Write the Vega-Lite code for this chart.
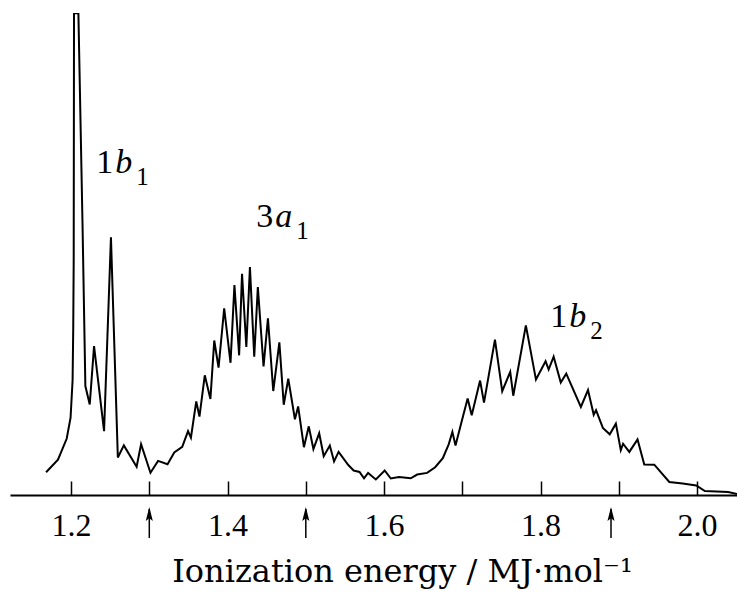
{
  "$schema": "https://vega.github.io/schema/vega-lite/v6.json",
  "width": 727,
  "height": 482,
  "autosize": {"type": "none"},
  "padding": {"left": 10, "right": 0, "top": 13, "bottom": 114},
  "background": "white",
  "config": {"view": {"stroke": null}, "font": "Liberation Serif"},
  "datasets": {
    "spectrum": [
      {"E": 1.1681, "I": 22.2}, {"E": 1.1833, "I": 34.6}, {"E": 1.1945, "I": 55.2}, {"E": 1.1994, "I": 75.5},
      {"E": 1.2020, "I": 112.4}, {"E": 1.2028, "I": 162.7}, {"E": 1.2034, "I": 229.6}, {"E": 1.2038, "I": 470.8},
      {"E": 1.2094, "I": 470.8}, {"E": 1.2147, "I": 263.6}, {"E": 1.2183, "I": 106.5}, {"E": 1.2239, "I": 88.4},
      {"E": 1.2294, "I": 145.5}, {"E": 1.2422, "I": 62.4}, {"E": 1.2510, "I": 251.9}, {"E": 1.2598, "I": 36.6},
      {"E": 1.2675, "I": 48.5}, {"E": 1.2838, "I": 27.7}, {"E": 1.2895, "I": 49.6}, {"E": 1.3015, "I": 21.8},
      {"E": 1.3112, "I": 33.3}, {"E": 1.3233, "I": 30.1}, {"E": 1.3319, "I": 41.6}, {"E": 1.3421, "I": 47.0},
      {"E": 1.3495, "I": 62.4}, {"E": 1.3532, "I": 56.0}, {"E": 1.3600, "I": 91.4}, {"E": 1.3641, "I": 76.6},
      {"E": 1.3709, "I": 117.0}, {"E": 1.3781, "I": 93.9}, {"E": 1.3830, "I": 151.0}, {"E": 1.3885, "I": 124.5},
      {"E": 1.3957, "I": 182.4}, {"E": 1.4038, "I": 129.2}, {"E": 1.4088, "I": 205.1}, {"E": 1.4148, "I": 136.5},
      {"E": 1.4185, "I": 216.2}, {"E": 1.4240, "I": 144.6}, {"E": 1.4286, "I": 222.7}, {"E": 1.4341, "I": 135.1},
      {"E": 1.4387, "I": 203.1}, {"E": 1.4460, "I": 125.6}, {"E": 1.4516, "I": 172.6}, {"E": 1.4584, "I": 101.6},
      {"E": 1.4662, "I": 149.2}, {"E": 1.4718, "I": 88.2}, {"E": 1.4776, "I": 113.6}, {"E": 1.4861, "I": 73.9},
      {"E": 1.4902, "I": 86.5}, {"E": 1.4976, "I": 46.7}, {"E": 1.5038, "I": 67.1}, {"E": 1.5097, "I": 44.9},
      {"E": 1.5171, "I": 60.3}, {"E": 1.5229, "I": 37.9}, {"E": 1.5307, "I": 48.3}, {"E": 1.5361, "I": 32.8},
      {"E": 1.5419, "I": 42.1}, {"E": 1.5543, "I": 29.3}, {"E": 1.5611, "I": 23.9}, {"E": 1.5686, "I": 22.5},
      {"E": 1.5744, "I": 16.2}, {"E": 1.5796, "I": 21.5}, {"E": 1.5895, "I": 15.2}, {"E": 1.6008, "I": 24.0},
      {"E": 1.6086, "I": 16.1}, {"E": 1.6190, "I": 17.6}, {"E": 1.6341, "I": 16.3}, {"E": 1.6423, "I": 20.0},
      {"E": 1.6550, "I": 21.6}, {"E": 1.6653, "I": 27.1}, {"E": 1.6751, "I": 36.0}, {"E": 1.6827, "I": 49.7},
      {"E": 1.6873, "I": 61.7}, {"E": 1.6913, "I": 48.4}, {"E": 1.6993, "I": 72.2}, {"E": 1.7068, "I": 94.3},
      {"E": 1.7120, "I": 77.9}, {"E": 1.7227, "I": 111.8}, {"E": 1.7277, "I": 90.2}, {"E": 1.7417, "I": 151.8},
      {"E": 1.7510, "I": 101.4}, {"E": 1.7612, "I": 120.3}, {"E": 1.7651, "I": 97.0}, {"E": 1.7812, "I": 165.7},
      {"E": 1.7941, "I": 112.8}, {"E": 1.8064, "I": 130.7}, {"E": 1.8103, "I": 122.6}, {"E": 1.8167, "I": 135.2},
      {"E": 1.8258, "I": 109.9}, {"E": 1.8328, "I": 118.6}, {"E": 1.8515, "I": 86.0}, {"E": 1.8606, "I": 102.5},
      {"E": 1.8679, "I": 78.4}, {"E": 1.8709, "I": 82.9}, {"E": 1.8796, "I": 65.6}, {"E": 1.8884, "I": 59.3},
      {"E": 1.8962, "I": 69.7}, {"E": 1.9025, "I": 43.9}, {"E": 1.9054, "I": 50.1}, {"E": 1.9134, "I": 42.1},
      {"E": 1.9239, "I": 54.3}, {"E": 1.9325, "I": 29.8}, {"E": 1.9453, "I": 29.6}, {"E": 1.9645, "I": 12.7},
      {"E": 1.9816, "I": 11.2}, {"E": 1.9989, "I": 9.3}, {"E": 2.0100, "I": 3.8}, {"E": 2.0397, "I": 2.9},
      {"E": 2.0510, "I": 1.0}
    ],
    "bands": [
      {"E": 1.2321, "I": 314.6, "num": "1", "orb": "b", "sub": "1"},
      {"E": 1.4368, "I": 261.9, "num": "3", "orb": "a", "sub": "1"},
      {"E": 1.8124, "I": 164.1, "num": "1", "orb": "b", "sub": "2"}
    ],
    "arrows": [{"E": 1.3}, {"E": 1.5}, {"E": 1.89}]
  },
  "layer": [
    {
      "data": {"name": "spectrum"},
      "mark": {"type": "line", "color": "black", "strokeWidth": 2, "clip": true},
      "encoding": {
        "x": {
          "field": "E", "type": "quantitative",
          "scale": {"domain": [1.122, 2.051], "nice": false, "zero": false},
          "axis": {
            "values": [1.2, 1.3, 1.4, 1.5, 1.6, 1.7, 1.8, 1.9, 2.0],
            "labelExpr": "round(datum.value * 10) % 2 == 0 ? format(datum.value, '.1f') : ''",
            "grid": false,
            "tickSize": -14, "tickWidth": 1.5, "tickColor": "black",
            "domainColor": "black", "domainWidth": 2,
            "labelFont": "Liberation Serif", "labelFontSize": 32, "labelColor": "black",
            "labelBaseline": "alphabetic", "labelPadding": 54,
            "labelFlush": false, "labelOverlap": false,
            "title": "Ionization energy / MJ·mol⁻¹",
            "titleFont": "DejaVu Serif", "titleFontSize": 32, "titleFontWeight": "normal", "titleColor": "black",
            "titleX": 392, "titleY": 86, "titleAlign": "center", "titleBaseline": "alphabetic"
          }
        },
        "y": {
          "field": "I", "type": "quantitative",
          "scale": {"domain": [0, 471], "nice": false},
          "axis": null
        }
      }
    },
    {
      "data": {"name": "bands"},
      "mark": {"type": "text", "align": "left", "baseline": "alphabetic", "fontSize": 34, "font": "Liberation Serif", "color": "black"},
      "encoding": {
        "x": {"field": "E", "type": "quantitative"},
        "y": {"field": "I", "type": "quantitative"},
        "text": {"field": "num"}
      }
    },
    {
      "data": {"name": "bands"},
      "mark": {"type": "text", "align": "left", "baseline": "alphabetic", "fontSize": 34, "font": "Liberation Serif", "fontStyle": "italic", "dx": 19, "color": "black"},
      "encoding": {
        "x": {"field": "E", "type": "quantitative"},
        "y": {"field": "I", "type": "quantitative"},
        "text": {"field": "orb"}
      }
    },
    {
      "data": {"name": "bands"},
      "mark": {"type": "text", "align": "left", "baseline": "alphabetic", "fontSize": 25, "font": "Liberation Serif", "dx": 40, "dy": 12, "color": "black"},
      "encoding": {
        "x": {"field": "E", "type": "quantitative"},
        "y": {"field": "I", "type": "quantitative"},
        "text": {"field": "sub"}
      }
    },
    {
      "data": {"name": "arrows"},
      "mark": {"type": "rule", "color": "black", "strokeWidth": 1.5, "yOffset": 14, "y2Offset": 43},
      "encoding": {
        "x": {"field": "E", "type": "quantitative"},
        "y": {"datum": 0},
        "y2": {"datum": 0}
      }
    },
    {
      "data": {"name": "arrows"},
      "mark": {"type": "point", "shape": "M0,-1L0.5,1L0,0.6L-0.5,1Z", "filled": true, "color": "black", "opacity": 1, "size": 200, "yOffset": 19},
      "encoding": {
        "x": {"field": "E", "type": "quantitative"},
        "y": {"datum": 0}
      }
    }
  ]
}
